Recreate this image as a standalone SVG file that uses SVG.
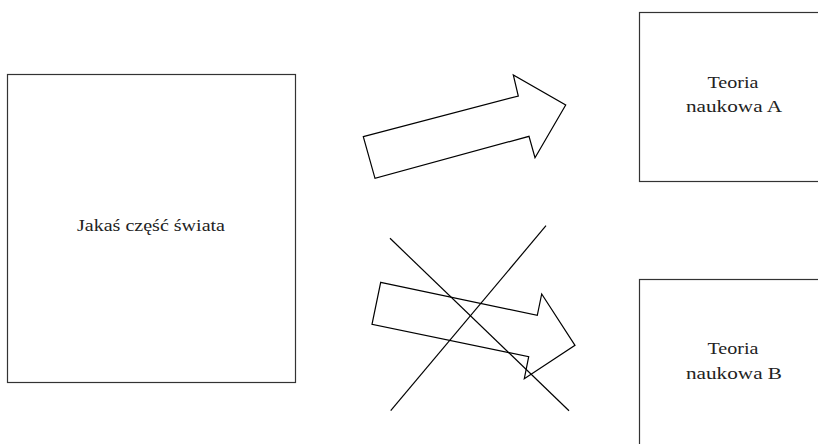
<svg xmlns="http://www.w3.org/2000/svg" width="818" height="444" viewBox="0 0 818 444">
<style>
.box{fill:#fff;stroke:#333;stroke-width:1.2}
.lbl{font-family:"Liberation Serif","DejaVu Serif",serif;font-size:17px;fill:#222;text-anchor:middle}
.arr{fill:#fff;stroke:#000;stroke-width:1.2;stroke-linejoin:miter}
.ln{stroke:#000;stroke-width:1.2;fill:none}
</style>
<rect width="818" height="444" fill="#fff"/>
<g id="world">
<rect class="box" x="7.5" y="74.5" width="288" height="308"/>
<text class="lbl" x="151" y="231" textLength="148" lengthAdjust="spacingAndGlyphs">Jakaś część świata</text>
</g>
<g id="theoryA">
<rect class="box" x="639.5" y="12.5" width="190" height="169"/>
<text class="lbl" x="733" y="88" textLength="51" lengthAdjust="spacingAndGlyphs">Teoria</text>
<text class="lbl" x="734" y="112" textLength="96" lengthAdjust="spacingAndGlyphs">naukowa A</text>
</g>
<g id="theoryB">
<rect class="box" x="639.5" y="279.5" width="190" height="180"/>
<text class="lbl" x="733" y="354" textLength="51" lengthAdjust="spacingAndGlyphs">Teoria</text>
<text class="lbl" x="734" y="379" textLength="96" lengthAdjust="spacingAndGlyphs">naukowa B</text>
</g>
<g id="connectors">
<polygon class="arr" points="363.3,136.7 518.3,96 513.3,75 565.7,105 535,157.7 529,136.3 375,178.3"/>
<polygon class="arr" points="380.7,282.3 537.3,315.3 541.7,294 575,345.3 524.3,378.7 528.7,356.7 372,324.3"/>
<line class="ln" x1="390" y1="238.3" x2="569" y2="410.7"/>
<line class="ln" x1="546" y1="225.7" x2="390.7" y2="410.7"/>
</g>
</svg>
